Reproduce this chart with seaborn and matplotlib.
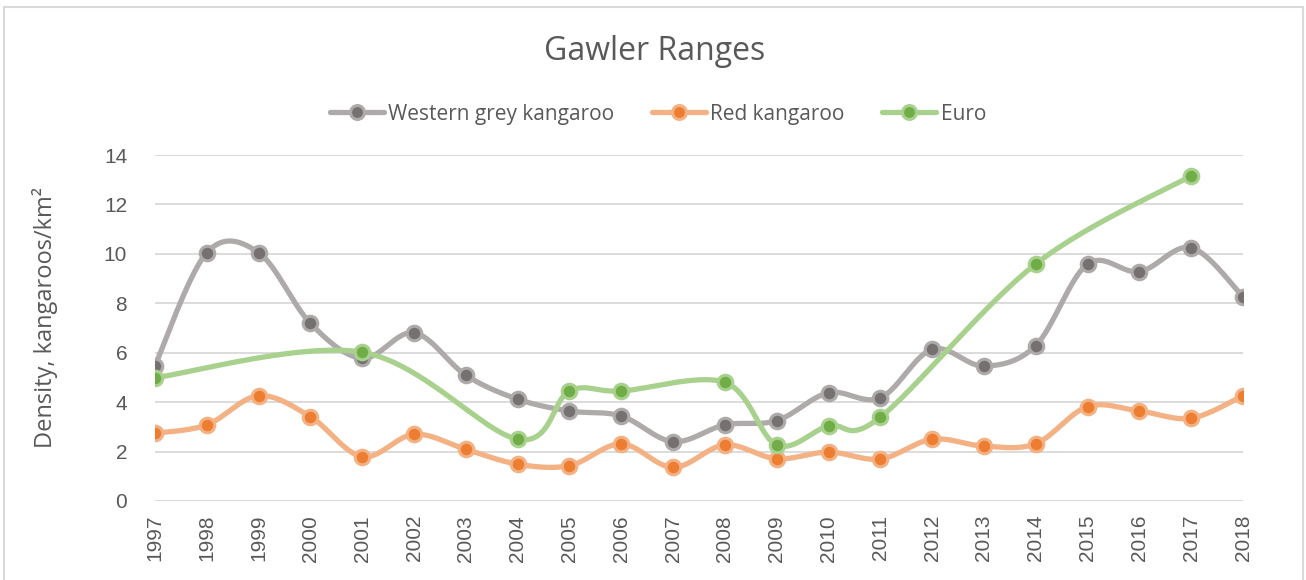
import numpy as np
import pandas as pd
import seaborn as sns
import matplotlib.pyplot as plt
from matplotlib.lines import Line2D
from matplotlib.patches import Rectangle

# data
years = list(range(1997, 2019))
western_grey = [5.48, 10.05, 10.05, 7.19, 5.77, 6.81, 5.09, 4.12, 3.64, 3.44, 2.40,
                3.08, 3.25, 4.38, 4.17, 6.14, 5.46, 6.29, 9.59, 9.28, 10.25, 8.27]
red = [2.74, 3.08, 4.26, 3.41, 1.79, 2.70, 2.09, 1.49, 1.43, 2.31, 1.36,
       2.27, 1.71, 1.98, 1.70, 2.50, 2.22, 2.32, 3.82, 3.64, 3.35, 4.26]
euro = [4.99, None, None, None, 6.02, None, None, 2.50, 4.45, 4.45, None,
        4.80, 2.27, 3.04, 3.39, None, None, 9.59, None, None, 13.16, None]

series_names = ["Western grey kangaroo", "Red kangaroo", "Euro"]
line_colors = ["#AEAAAA", "#F4B183", "#A9D18E"]
marker_colors = ["#757171", "#ED7D31", "#70AD47"]
TEXT = "#595959"


def smooth_curve(xs, ys, steps=30):
    # Excel-like smoothing: bezier segments with catmull-rom control points
    pts = np.column_stack([xs, ys]).astype(float)
    n = len(pts)
    out = []
    for i in range(n - 1):
        p0 = pts[max(i - 1, 0)]
        p1 = pts[i]
        p2 = pts[i + 1]
        p3 = pts[min(i + 2, n - 1)]
        c1 = p1 + (p2 - p0) / 6
        c2 = p2 - (p3 - p1) / 6
        t = np.linspace(0, 1, steps)[:, None]
        seg = ((1 - t) ** 3) * p1 + 3 * ((1 - t) ** 2) * t * c1 + 3 * (1 - t) * t ** 2 * c2 + t ** 3 * p2
        out.append(seg if i == 0 else seg[1:])
    return np.vstack(out)


def main():
    sns.set_style("white")
    plt.rcParams["font.family"] = ["Open Sans", "DejaVu Sans"]

    fig = plt.figure(figsize=(13.06, 5.8), dpi=100)
    ax = fig.add_axes([155 / 1306, 1 - 501 / 580, (1243 - 155) / 1306, (501 - 155) / 580])

    df = pd.DataFrame({"year": years, series_names[0]: western_grey,
                       series_names[1]: red, series_names[2]: euro})

    handles = []
    for name, lc, mc in zip(series_names, line_colors, marker_colors):
        sub = df[["year", name]].dropna()
        curve = smooth_curve(sub["year"].values, sub[name].values)
        cdf = pd.DataFrame({"x": curve[:, 0], "y": curve[:, 1]})
        sns.lineplot(data=cdf, x="x", y="y", sort=False, color=lc, linewidth=3.8,
                     ax=ax, solid_capstyle="round", legend=False)
        sns.scatterplot(data=sub, x="year", y=name, color=mc, edgecolor=lc,
                        linewidth=2.2, s=110, ax=ax, zorder=3, legend=False)
        handles.append(Line2D([0], [0], color=lc, linewidth=3.8, marker="o",
                              markersize=10, markerfacecolor=mc, markeredgecolor=lc,
                              markeredgewidth=2.2, label=name))

    ax.set_xlim(1997, 2018)
    ax.set_ylim(0, 14)
    ax.set_yticks(range(0, 15, 2))
    ax.set_xticks(years)
    ax.set_xticklabels([str(y) for y in years], rotation=90, fontsize=15,
                       color=TEXT, family="Liberation Sans")
    ax.set_yticklabels([str(v) for v in range(0, 15, 2)], fontsize=15,
                       color=TEXT, family="Liberation Sans")
    ax.tick_params(axis="x", length=0, pad=10)
    ax.tick_params(axis="y", length=0, pad=20)
    ax.grid(axis="y", color="#D9D9D9", linewidth=1.3)
    ax.set_axisbelow(True)
    for s in ax.spines.values():
        s.set_visible(False)
    ax.set_xlabel("")
    ax.set_ylabel("Density, kangaroos/km\u00b2", fontsize=17, color=TEXT)
    ax.yaxis.set_label_coords((58 - 155) / 1088, (501 - 318) / 346)

    fig.text(0.5015, 1 - 51 / 580, "Gawler Ranges", ha="center", va="center",
             fontsize=23, color=TEXT)
    fig.legend(handles=handles, loc="center", bbox_to_anchor=(658 / 1306, 0.803),
               ncol=3, frameon=False, fontsize=15, handlelength=2.6,
               handletextpad=0.2, columnspacing=1.8, labelcolor=TEXT)

    fig.patches.append(Rectangle((4 / 1306, -0.01), 1299 / 1306, 1 - 7 / 580 + 0.01,
                                 transform=fig.transFigure, fill=False,
                                 edgecolor="#D9D9D9", linewidth=1.5))

    fig.savefig("out.png", dpi=100, facecolor="white")


if __name__ == "__main__":
    main()
